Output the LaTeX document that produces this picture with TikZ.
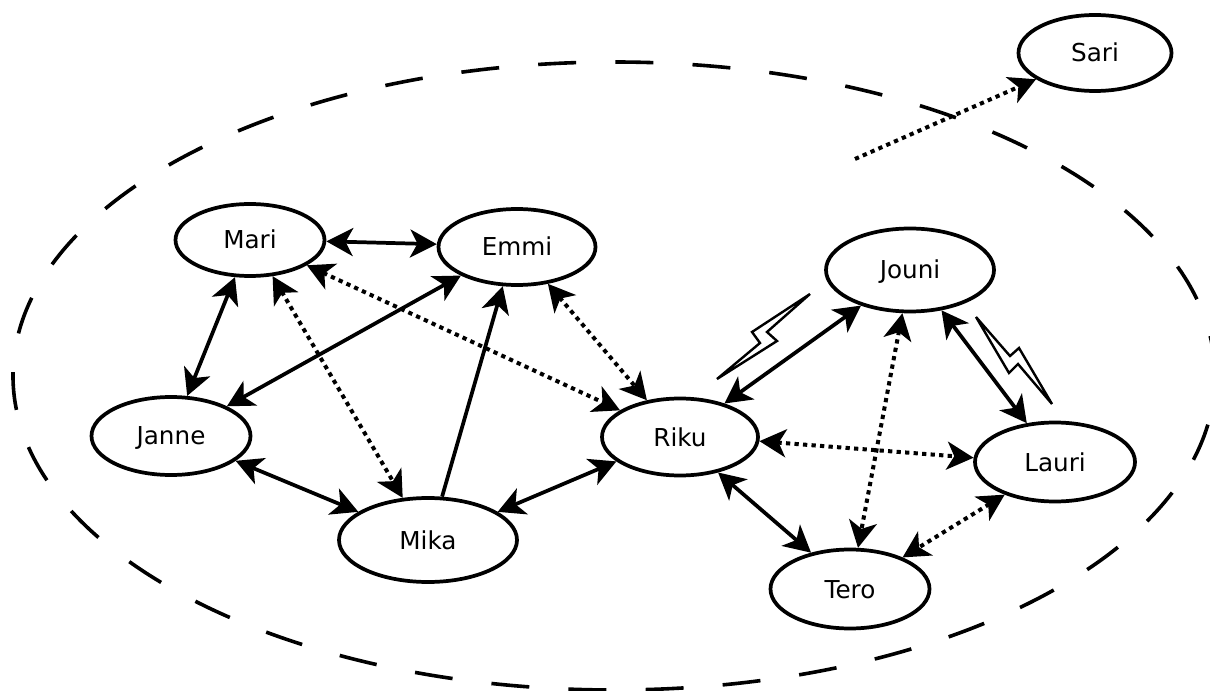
\documentclass[tikz,border=0pt]{standalone}
\usepackage{fontspec}
\setmainfont{DejaVu Sans}
\usetikzlibrary{arrows.meta,shapes.geometric}
\tikzset{
  px/.style={x=0.75pt,y=-0.75pt},
  person/.style={draw,ellipse,line width=2.8pt,inner sep=0pt,text height=13.5pt,text depth=0pt,font=\fontsize{18.5}{22}\selectfont},
  size/.style 2 args={minimum width=#1*0.75pt,minimum height=#2*0.75pt},
  head/.tip={Stealth[length=20pt,width=21pt,inset=5.5pt]},
  strong/.style={head-head,line width=2.8pt},
  weak/.style={strong,dash pattern=on 3.2pt off 3.2pt,line width=3pt},
  bolt/.style={line width=1.8pt,line join=miter,miter limit=3}
}
\begin{document}
\begin{tikzpicture}[px]
\useasboundingbox (0,0) rectangle (1210,691);
\draw[line width=2.7pt,dash pattern=on 28.5pt off 29.4pt,dash phase=20.9pt] (614,376) ellipse [x radius=601,y radius=314];
\node[person,size={153}{76}] (sari) at (1095,53) {Sari};
\node[person,size={149}{72}] (mari) at (250,240) {Mari};
\node[person,size={157}{76}] (emmi) at (517,247) {Emmi};
\node[person,size={168}{83}] (jouni) at (910,270) {Jouni};
\node[person,size={159}{78}] (janne) at (171,436) {Janne};
\node[person,size={156}{77}] (riku) at (680,437) {Riku};
\node[person,size={160}{79}] (lauri) at (1055,462) {Lauri};
\node[person,size={178}{84}] (mika) at (428,540) {Mika};
\node[person,size={159}{79}] (tero) at (850,589) {Tero};
\coordinate (sarifrom) at (855,159);
\draw[strong] (mari.-1.5) -- (emmi.178);
\draw[strong] (mari.-112) -- (janne.68);
\draw[strong] (emmi.-153) -- (janne.28.5);
\draw[weak] (mari.-24) -- (riku.156);
\draw[weak] (mari.-58) -- (mika.121);
\draw[strong,-head] (mika.72) -- (emmi.-110.6);
\draw[weak] (emmi.-50) -- (riku.132);
\draw[strong] (janne.-21) -- (mika.158);
\draw[strong] (mika.22) -- (riku.-159);
\draw[strong] (riku.37) -- (jouni.-144);
\draw[strong] (jouni.-52.5) -- (lauri.126);
\draw[weak] (jouni.-100) -- (tero.79);
\draw[weak] (riku.-3.6) -- (lauri.177);
\draw[strong] (riku.-43) -- (tero.137);
\draw[weak] (lauri.-147) -- (tero.31.5);
\draw[weak,-head] (sarifrom) -- (sari.-156);
\draw[bolt] (810,294) -- (752,332) -- (760,343) -- (717,379) -- (777,341) -- (767,332) -- cycle;
\draw[bolt] (976,317) -- (1010,356) -- (1019,348) -- (1052,404) -- (1018,364) -- (1009,373) -- cycle;
\end{tikzpicture}
\end{document}
